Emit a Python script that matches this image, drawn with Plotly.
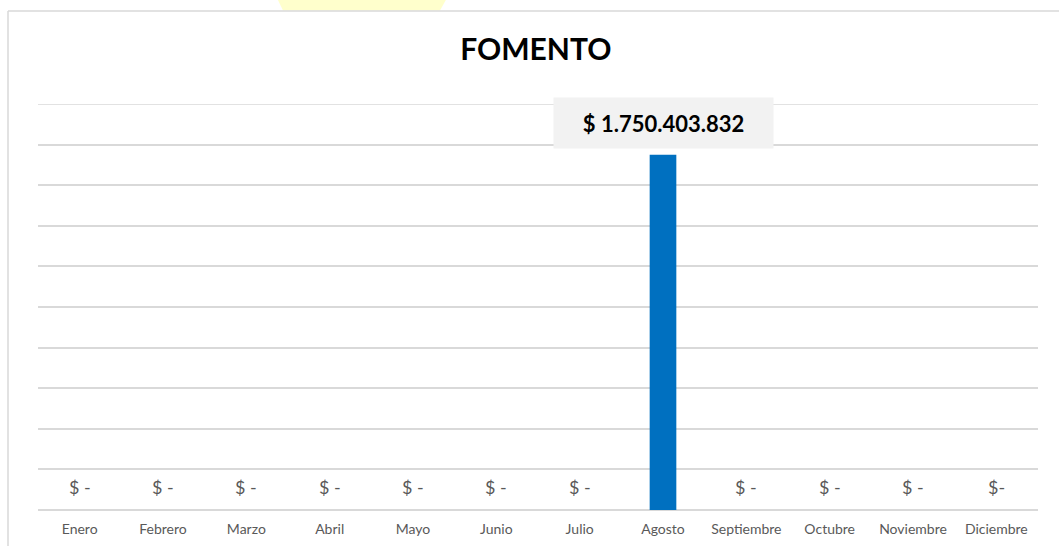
import plotly.graph_objects as go

# Monthly amounts for "FOMENTO"
months = ["Enero", "Febrero", "Marzo", "Abril", "Mayo", "Junio", "Julio",
          "Agosto", "Septiembre", "Octubre", "Noviembre", "Diciembre"]
amounts = [0, 0, 0, 0, 0, 0, 0, 1750403832, 0, 0, 0, 0]
zero_labels = ["$ -", "$ -", "$ -", "$ -", "$ -", "$ -", "$ -",
               "", "$ -", "$ -", "$ -", "$-"]

y_max = 2000000000
y_step = 200000000

FONT = "Lato, 'Noto Sans', sans-serif"
GREY_TEXT = "#595959"
GRID = "#D9D9D9"


def money(v):
    return "$ " + f"{v:,.0f}".replace(",", ".")


fig = go.Figure()
fig.add_trace(go.Bar(
    x=months, y=amounts, width=0.32,
    marker=dict(color="#0070C0", line=dict(width=0)),
    hoverinfo="x+y",
))

# plot-area geometry helpers (paper coordinates)
W, H = 1059, 546
ml, mr, mt, mb = 38, 21, 104, 36
pw, ph = W - ml - mr, H - mt - mb


def px(x):
    return (x - ml) / pw


def py(y):
    return (H - mb - y) / ph


annotations = []
for m, v, lab in zip(months, amounts, zero_labels):
    if v == 0 and lab:
        annotations.append(dict(
            x=m, y=y_step / 2, text=lab, showarrow=False,
            font=dict(family=FONT, size=18, color=GREY_TEXT),
            xanchor="center", yanchor="middle", yshift=3,
        ))
    elif v > 0:
        annotations.append(dict(
            x=m, y=v, text="<b>" + money(v) + "</b>", showarrow=False,
            font=dict(family=FONT, size=22, color="#000000"),
            bgcolor="#F2F2F2", width=217, height=48,
            xanchor="center", yanchor="bottom", yshift=6,
        ))

shapes = [
    # top gridline at the axis maximum
    dict(type="line", xref="paper", yref="y", x0=0, x1=1, y0=y_max, y1=y_max,
         line=dict(color=GRID, width=1.5), layer="below"),
    # outer chart frame (left and top edges)
    dict(type="line", xref="paper", yref="paper",
         x0=px(8), x1=px(8), y0=py(11), y1=py(H + 5),
         line=dict(color=GRID, width=1.5)),
    dict(type="line", xref="paper", yref="paper",
         x0=px(8), x1=px(W + 5), y0=py(11), y1=py(11),
         line=dict(color=GRID, width=1.5)),
    # yellow tab peeking above the frame
    dict(type="path", xref="paper", yref="paper",
         path=(f"M {px(277)},{py(-2)} L {px(447)},{py(-2)} "
               f"L {px(440)},{py(10.5)} L {px(283)},{py(10.5)} Z"),
         fillcolor="#FFFFCC", line=dict(width=0), layer="below"),
]

fig.update_layout(
    width=W, height=H,
    margin=dict(l=ml, r=mr, t=mt, b=mb, pad=0, autoexpand=False),
    paper_bgcolor="#FFFFFF", plot_bgcolor="#FFFFFF",
    showlegend=False,
    title=dict(text="<b>FOMENTO</b>", x=px(544), xanchor="center",
               y=1 - 49 / H, yanchor="middle",
               font=dict(family=FONT, size=30, color="#000000")),
    annotations=annotations,
    shapes=shapes,
    bargap=0.68,
)
fig.update_xaxes(
    type="category", showgrid=False, showline=False, zeroline=False,
    automargin=False,
    ticks="outside", ticklen=6, tickcolor="rgba(0,0,0,0)",
    tickfont=dict(family=FONT, size=14, color=GREY_TEXT),
)
fig.update_yaxes(
    range=[0, y_max], dtick=y_step, showticklabels=False, automargin=False,
    showgrid=True, gridcolor=GRID, gridwidth=1.5,
    zeroline=True, zerolinecolor=GRID, zerolinewidth=1.5,
    showline=False,
)

fig.write_html("out.html")
